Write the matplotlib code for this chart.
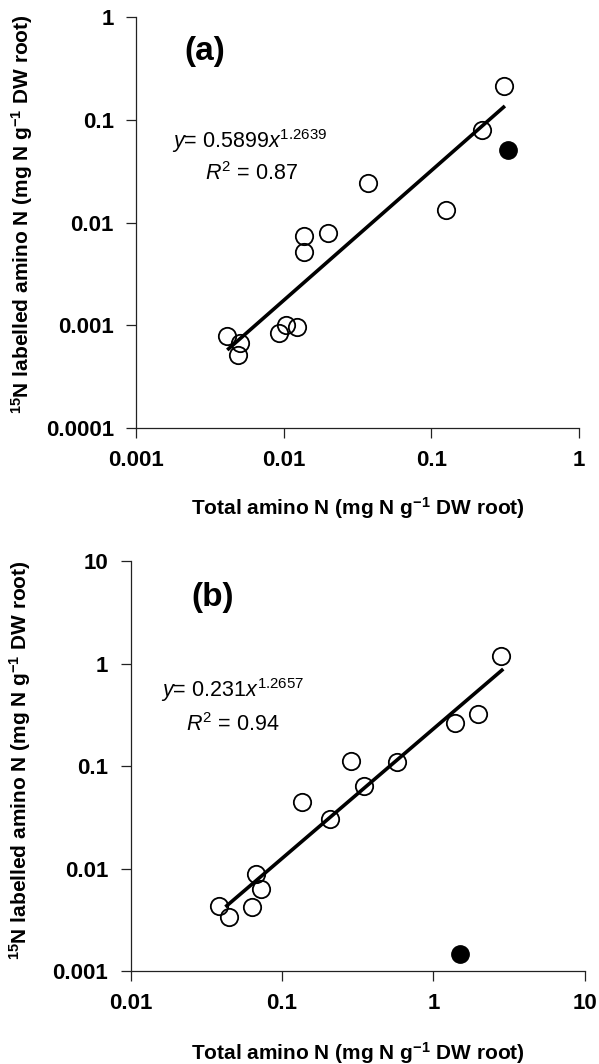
import matplotlib
matplotlib.use("Agg")
import matplotlib.pyplot as plt

plt.rcParams["font.family"] = ["Liberation Sans", "DejaVu Sans"]
plt.rcParams["mathtext.fontset"] = "custom"
plt.rcParams["mathtext.rm"] = "Liberation Sans"
plt.rcParams["mathtext.it"] = "Liberation Sans:italic"
plt.rcParams["mathtext.bf"] = "Liberation Sans:bold"

# panel (a): open circles, one filled outlier, power-law trend
a_total = [0.00411, 0.00506, 0.00488, 0.00929, 0.01036, 0.01224, 0.01366,
           0.01366, 0.01986, 0.0375, 0.1256, 0.219, 0.310]
a_labelled = [0.000787, 0.000668, 0.000514, 0.000847, 0.001006, 0.00097,
              0.0074, 0.0052, 0.00797, 0.0241, 0.01327, 0.0797, 0.2138]
a_out_total = [0.332]
a_out_labelled = [0.0509]
a_trend_x = [0.00415, 0.315]
a_trend_y = [0.000576, 0.137]

# panel (b)
b_total = [2.80, 1.393, 1.966, 0.2875, 0.578, 0.348, 0.135, 0.2064, 0.067,
           0.0732, 0.0381, 0.0448, 0.0632]
b_labelled = [1.19, 0.262, 0.3194, 0.1111, 0.1106, 0.0641, 0.0444, 0.0303,
              0.0089, 0.00631, 0.00431, 0.00334, 0.0042]
b_out_total = [1.50]
b_out_labelled = [0.00145]
b_trend_x = [0.0423, 2.888]
b_trend_y = [0.00422, 0.884]

a_xticks = [0.001, 0.01, 0.1, 1]
a_xlabels = ["0.001", "0.01", "0.1", "1"]
a_yticks = [0.0001, 0.001, 0.01, 0.1, 1]
a_ylabels = ["0.0001", "0.001", "0.01", "0.1", "1"]
b_xticks = [0.01, 0.1, 1, 10]
b_xlabels = ["0.01", "0.1", "1", "10"]
b_yticks = [0.001, 0.01, 0.1, 1, 10]
b_ylabels = ["0.001", "0.01", "0.1", "1", "10"]

x_title = r"Total amino N (mg N g$^{\mathbf{-1}}$ DW root)"
y_title = r"$^{\mathbf{15}}$N labelled amino N (mg N g$^{\mathbf{-1}}$ DW root)"

fig = plt.figure(figsize=(5.99, 10.64), dpi=100)
ax_a = fig.add_axes([0.2270, 0.5977, 0.7396, 0.3860])
ax_b = fig.add_axes([0.2179, 0.0874, 0.7587, 0.3853])


def style_panel(ax, xticks, xlabels, yticks, ylabels):
    ax.set_xscale("log")
    ax.set_yscale("log")
    ax.set_xlim(xticks[0], xticks[-1])
    ax.set_ylim(yticks[0], yticks[-1])
    ax.set_xticks(xticks)
    ax.set_xticklabels(xlabels)
    ax.set_yticks(yticks)
    ax.set_yticklabels(ylabels)
    ax.minorticks_off()
    for side in ("top", "right"):
        ax.spines[side].set_visible(False)
    for side in ("left", "bottom"):
        ax.spines[side].set_linewidth(0.9)
        ax.spines[side].set_color("#222222")
    ax.tick_params(direction="out", length=7, width=0.9, color="#222222",
                   labelsize=16, pad=9)
    for lab in ax.get_xticklabels() + ax.get_yticklabels():
        lab.set_fontweight("bold")
    ax.set_xlabel(x_title, fontsize=15, fontweight="bold")
    ax.set_ylabel(y_title, fontsize=15, fontweight="bold")


def draw_points(ax, x, y, ox, oy, tx, ty):
    ax.plot(tx, ty, color="black", lw=2.6, solid_capstyle="butt", zorder=2)
    ax.plot(x, y, "o", ms=12.5, mfc="none", mec="black", mew=1.3, zorder=3,
            clip_on=False)
    ax.plot(ox, oy, "o", ms=12.5, mfc="black", mec="black", zorder=3,
            clip_on=False)


style_panel(ax_a, a_xticks, a_xlabels, a_yticks, a_ylabels)
draw_points(ax_a, a_total, a_labelled, a_out_total, a_out_labelled,
            a_trend_x, a_trend_y)
ax_a.xaxis.set_label_coords(0.5, -0.163)
ax_a.yaxis.set_label_coords(-0.228, 0.52)
ax_a.text(0.156, 0.918, "(a)", transform=ax_a.transAxes, fontsize=24,
          fontweight="bold", ha="center", va="center")
ax_a.text(0.081, 0.682, r"$y$= 0.5899$x^{1.2639}$", transform=ax_a.transAxes,
          fontsize=15.5, ha="left", va="baseline")
ax_a.text(0.155, 0.604, r"$R^2$ = 0.87", transform=ax_a.transAxes,
          fontsize=15.5, ha="left", va="baseline")

style_panel(ax_b, b_xticks, b_xlabels, b_yticks, b_ylabels)
draw_points(ax_b, b_total, b_labelled, b_out_total, b_out_labelled,
            b_trend_x, b_trend_y)
ax_b.xaxis.set_label_coords(0.5, -0.168)
ax_b.yaxis.set_label_coords(-0.2145, 0.515)
ax_b.text(0.1815, 0.910, "(b)", transform=ax_b.transAxes, fontsize=24,
          fontweight="bold", ha="center", va="center")
ax_b.text(0.067, 0.6695, r"$y$= 0.231$x^{1.2657}$", transform=ax_b.transAxes,
          fontsize=15.5, ha="left", va="baseline")
ax_b.text(0.122, 0.586, r"$R^2$ = 0.94", transform=ax_b.transAxes,
          fontsize=15.5, ha="left", va="baseline")

fig.savefig("out.png", dpi=100)
plt.close(fig)
